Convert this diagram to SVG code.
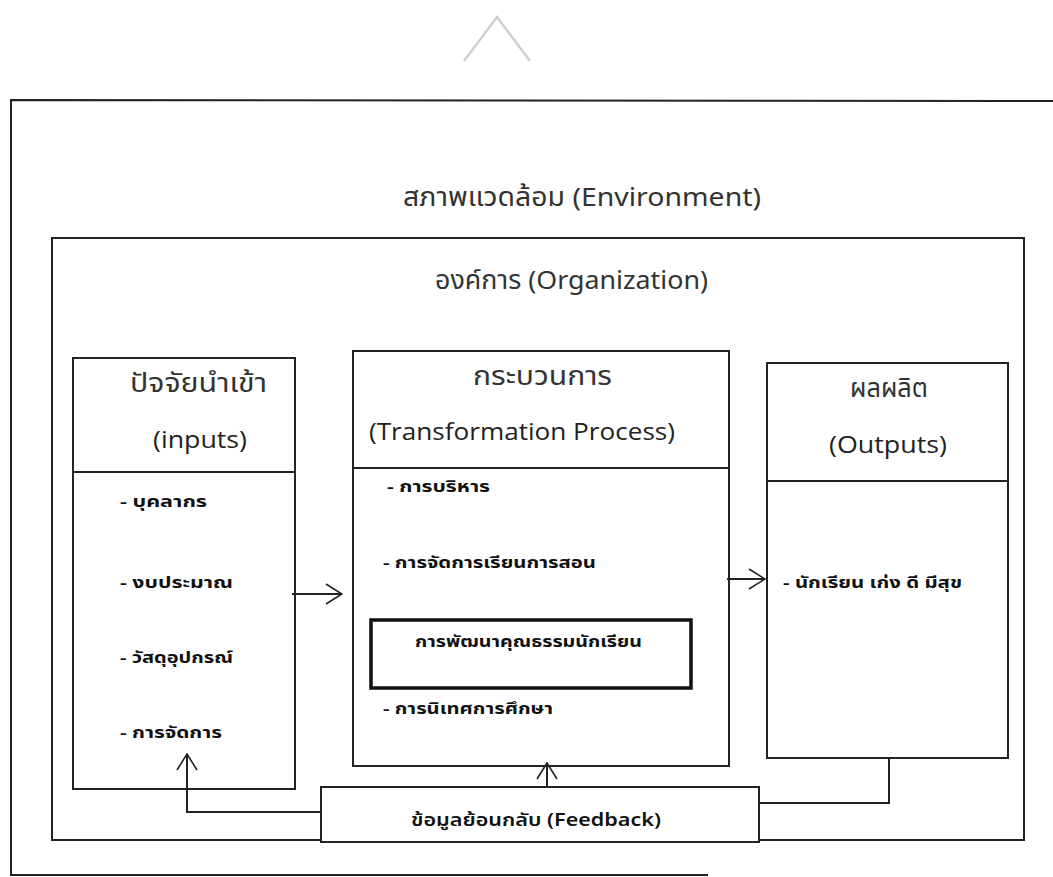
<svg xmlns="http://www.w3.org/2000/svg" width="1053" height="877" viewBox="0 0 1053 877">
<defs>
<marker id="open" viewBox="0 0 18 22" refX="17" refY="11" markerWidth="18" markerHeight="22" markerUnits="userSpaceOnUse" orient="auto">
<path d="M1,1 L17,11 L1,21" fill="none" stroke="#222" stroke-width="1.6"/>
</marker>
</defs>
<style>
.ln{fill:none;stroke:#222;stroke-width:2}
.box{fill:#fff;stroke:#222;stroke-width:2}
.ttl{font-family:"Noto Sans Thai","Open Sans","Noto Sans",sans-serif;font-size:26px;fill:#333}
.eng{font-family:"Open Sans","Noto Sans",sans-serif;font-size:24px;fill:#222}
.item{font-family:"Noto Sans Thai","Open Sans","Noto Sans",sans-serif;font-size:15px;font-weight:bold;fill:#111}
.fb{font-family:"Noto Sans Thai","Open Sans","Noto Sans",sans-serif;font-size:18px;font-weight:600;fill:#111}
</style>
<rect width="1053" height="877" fill="#fff"/>
<polyline points="464,61 497,17 530,61" fill="none" stroke="#d0d0d0" stroke-width="2.5"/>
<g id="environment">
<polyline class="ln" points="1053,101 11,100 11,875 708,875"/>
<text class="ttl" x="403" y="206" textLength="358" lengthAdjust="spacingAndGlyphs">สภาพแวดล้อม (Environment)</text>
</g>
<g id="organization">
<rect class="ln" x="52" y="238" width="972" height="602"/>
<text class="ttl" x="435" y="289" textLength="273" lengthAdjust="spacingAndGlyphs">องค์การ (Organization)</text>
</g>
<g id="inputs">
<rect class="box" x="73" y="358" width="222" height="431"/>
<line class="ln" x1="73" y1="472" x2="295" y2="472"/>
<text class="ttl" x="130" y="392" textLength="137" lengthAdjust="spacingAndGlyphs">ปัจจัยนำเข้า</text>
<text class="eng" x="153" y="448" textLength="94" lengthAdjust="spacingAndGlyphs">(inputs)</text>
<text class="item" x="120" y="507" textLength="87" lengthAdjust="spacingAndGlyphs">- บุคลากร</text>
<text class="item" x="120" y="588" textLength="113" lengthAdjust="spacingAndGlyphs">- งบประมาณ</text>
<text class="item" x="120" y="663" textLength="113" lengthAdjust="spacingAndGlyphs">- วัสดุอุปกรณ์</text>
<text class="item" x="120" y="738" textLength="102" lengthAdjust="spacingAndGlyphs">- การจัดการ</text>
</g>
<g id="process">
<rect class="box" x="353" y="351" width="376" height="415"/>
<line class="ln" x1="353" y1="468" x2="729" y2="468"/>
<text class="ttl" x="473" y="385" textLength="139" lengthAdjust="spacingAndGlyphs">กระบวนการ</text>
<text class="eng" x="369" y="440" textLength="306" lengthAdjust="spacingAndGlyphs">(Transformation Process)</text>
<text class="item" x="387" y="492" textLength="103" lengthAdjust="spacingAndGlyphs">- การบริหาร</text>
<text class="item" x="383" y="568" textLength="213" lengthAdjust="spacingAndGlyphs">- การจัดการเรียนการสอน</text>
<text class="item" x="383" y="714" textLength="170" lengthAdjust="spacingAndGlyphs">- การนิเทศการศึกษา</text>
</g>
<g id="moral">
<rect x="371" y="620" width="320" height="68" fill="#fff" stroke="#111" stroke-width="3.5"/>
<text class="item" x="415" y="647" textLength="227" lengthAdjust="spacingAndGlyphs">การพัฒนาคุณธรรมนักเรียน</text>
</g>
<g id="outputs">
<rect class="box" x="767" y="363" width="241" height="395"/>
<line class="ln" x1="767" y1="481" x2="1008" y2="481"/>
<text class="ttl" x="850" y="397" textLength="78" lengthAdjust="spacingAndGlyphs">ผลผลิต</text>
<text class="eng" x="829" y="453" textLength="118" lengthAdjust="spacingAndGlyphs">(Outputs)</text>
<text class="item" x="783" y="588" textLength="179" lengthAdjust="spacingAndGlyphs">- นักเรียน เก่ง ดี มีสุข</text>
</g>
<g id="feedback">
<rect class="box" x="321" y="787" width="438" height="55"/>
<text class="fb" x="411" y="826" textLength="250" lengthAdjust="spacingAndGlyphs">ข้อมูลย้อนกลับ (Feedback)</text>
</g>
<g id="connectors">
<line class="ln" x1="292" y1="594" x2="342" y2="594" marker-end="url(#open)"/>
<line class="ln" x1="727" y1="579" x2="765" y2="579" marker-end="url(#open)"/>
<line class="ln" x1="547" y1="787" x2="547" y2="763" marker-end="url(#open)"/>
<polyline class="ln" points="321,812 187,812 187,754" marker-end="url(#open)"/>
<polyline class="ln" points="759,803 889,803 889,758"/>
</g>
</svg>
